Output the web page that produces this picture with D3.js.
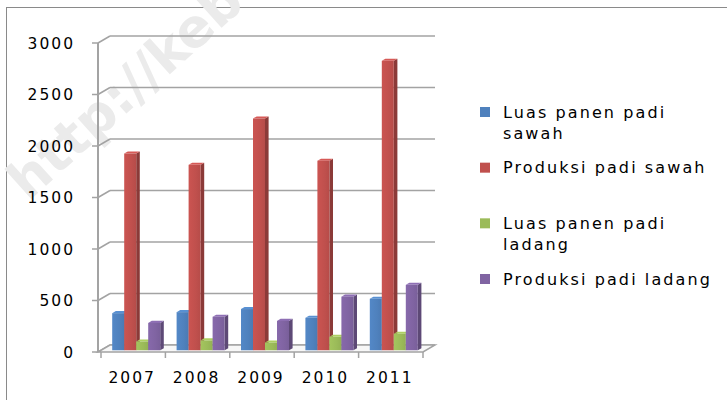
<!DOCTYPE html>
<html>
<head>
<meta charset="utf-8">
<script src="https://cdn.jsdelivr.net/npm/d3@7"></script>
<style>
  html, body { margin: 0; padding: 0; background: #fff; }
  svg { display: block; }
  text { font-family: "DejaVu Sans", sans-serif; fill: #000; }
</style>
</head>
<body>
<svg id="chart" width="727" height="400"></svg>
<script>
// ---------- data ----------
const years = ["2007", "2008", "2009", "2010", "2011"];
const seriesKeys = ["luasSawah", "produksiSawah", "luasLadang", "produksiLadang"];
const legendLabels = [["Luas panen padi", "sawah"], ["Produksi padi sawah"], ["Luas panen padi", "ladang"], ["Produksi padi ladang"]];
const luasSawah = [360, 370, 400, 315, 500];
const produksiSawah = [1910, 1800, 2250, 1840, 2810];
const luasLadang = [85, 95, 75, 130, 160];
const produksiLadang = [265, 325, 285, 520, 635];
const yTicks = [0, 500, 1000, 1500, 2000, 2500, 3000];
const seriesValues = [luasSawah, produksiSawah, luasLadang, produksiLadang];
const watermark = "http://keb";

// ---------- styles ----------
const colors = ["#4f81bd", "#c0504d", "#9bbb59", "#8064a2"];
const gridColor = "#a3a3a3";

const svg = d3.select("#chart");

// outer frame (cropped at right/bottom)
svg.append("rect").attr("x", 6.5).attr("y", 7.5).attr("width", 760).attr("height", 420)
  .attr("fill", "none").attr("stroke", "#8a8a8a").attr("stroke-width", 1);

// watermark
svg.append("text").text(watermark)
  .attr("transform", "translate(28,202) rotate(-42)")
  .attr("font-size", 53).attr("font-weight", "bold")
  .style("fill", "#ebebeb");

// ---------- scales ----------
const y = d3.scaleLinear().domain([0, 3000]).range([352, 43]);
const x = d3.scaleBand().domain(years).range([101, 423]);
const inner = d3.scaleBand().domain(seriesKeys).range([0, 48]);
const D = { x: 12, y: -7 };   // depth vector front -> back wall
const zFront = 0.25, zBack = 0.55;
const axisX = 98, rightX = 423;

// ---------- walls / gridlines ----------
const g = svg.append("g");
g.selectAll("line.grid").data(yTicks).join("line")
  .attr("x1", axisX + D.x).attr("x2", rightX + D.x)
  .attr("y1", d => y(d) + D.y).attr("y2", d => y(d) + D.y)
  .attr("stroke", gridColor).attr("stroke-width", 1.5);
g.selectAll("line.diag").data(yTicks).join("line")
  .attr("x1", axisX).attr("x2", axisX + D.x)
  .attr("y1", d => y(d)).attr("y2", d => y(d) + D.y)
  .attr("stroke", gridColor).attr("stroke-width", 1.5);
g.append("path")
  .attr("d", `M${axisX},${y(0)} L${rightX},${y(0)} L${rightX + D.x},${y(0) + D.y} L${axisX + D.x},${y(0) + D.y} Z`)
  .attr("fill", "#f7f7f7").attr("stroke", gridColor).attr("stroke-width", 1.5);
g.append("line").attr("x1", axisX).attr("x2", axisX).attr("y1", y(0)).attr("y2", y(3000))
  .attr("stroke", gridColor).attr("stroke-width", 2);
g.selectAll("line.ytick").data(yTicks).join("line")
  .attr("x1", axisX - 6).attr("x2", axisX).attr("y1", d => y(d)).attr("y2", d => y(d))
  .attr("stroke", gridColor).attr("stroke-width", 1.5);
g.selectAll("text.ylab").data(yTicks).join("text")
  .attr("x", 75).attr("y", d => y(d)).attr("dy", "0.36em")
  .attr("text-anchor", "end").attr("font-size", 15.5).attr("letter-spacing", 2)
  .text(d => d);
const xBounds = years.map(d => x(d)).concat([x(years[years.length - 1]) + x.bandwidth()]);
g.selectAll("line.xtick").data(xBounds).join("line")
  .attr("x1", d => d).attr("x2", d => d).attr("y1", y(0)).attr("y2", y(0) + 6)
  .attr("stroke", gridColor).attr("stroke-width", 1.5);
g.selectAll("text.xlab").data(years).join("text")
  .attr("x", d => x(d) + x.bandwidth() / 2 - 1).attr("y", 377).attr("dy", "0.36em")
  .attr("text-anchor", "middle").attr("font-size", 15.5).attr("letter-spacing", 2)
  .text(d => d);

// ---------- 3D bars ----------
const defs = svg.append("defs");
colors.forEach((c, i) => {
  const gr = defs.append("linearGradient").attr("id", "gf" + i).attr("x1", 0).attr("x2", 1).attr("y1", 0).attr("y2", 0);
  gr.append("stop").attr("offset", "0%").attr("stop-color", d3.color(c).brighter(0.15));
  gr.append("stop").attr("offset", "60%").attr("stop-color", c);
  gr.append("stop").attr("offset", "100%").attr("stop-color", d3.color(c).darker(0.15));
});
const offset = (x.bandwidth() - 48) / 2;
const fx = zFront * D.x, fy = zFront * D.y;
const dx = (zBack - zFront) * D.x, dy = (zBack - zFront) * D.y;
const barsG = svg.append("g");
years.forEach((yr, ci) => {
  seriesKeys.forEach((k, si) => {
    const v = seriesValues[si][ci];
    const x0 = x(yr) + offset + inner(k) + fx;
    const w = inner.bandwidth();
    const yt = y(v) + fy, yb = y(0) + fy;
    const c = d3.color(colors[si]);
    const bg = barsG.append("g");
    bg.append("path")
      .attr("d", `M${x0 + w},${yb} L${x0 + w + dx},${yb + dy} L${x0 + w + dx},${yt + dy} L${x0 + w},${yt} Z`)
      .attr("fill", c.darker(0.9));
    bg.append("path")
      .attr("d", `M${x0},${yt} L${x0 + w},${yt} L${x0 + w + dx},${yt + dy} L${x0 + dx},${yt + dy} Z`)
      .attr("fill", c.brighter(0.3));
    bg.append("rect").attr("x", x0).attr("y", yt).attr("width", w).attr("height", yb - yt)
      .attr("fill", `url(#gf${si})`);
  });
});

// ---------- legend ----------
const leg = svg.append("g");
const legY = d3.scaleLinear().domain([0, 3]).range([112, 279]);
legendLabels.forEach((lines, i) => {
  leg.append("rect").attr("x", 480).attr("y", legY(i) - 5).attr("width", 10).attr("height", 10)
    .attr("fill", colors[i]);
  lines.forEach((t, j) => {
    leg.append("text").attr("x", 503).attr("y", legY(i) + j * 21).attr("dy", "0.36em")
      .attr("font-size", 16).attr("letter-spacing", 2.1).text(t);
  });
});
</script>
</body>
</html>
